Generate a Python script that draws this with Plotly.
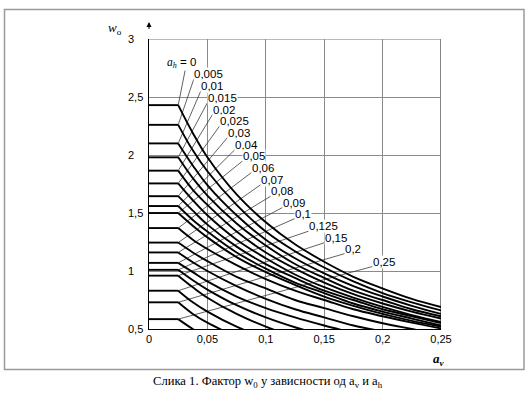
import plotly.graph_objects as go

# ---------------- data ----------------
AV = [0, 0.025, 0.0375, 0.05, 0.075, 0.1, 0.125, 0.15, 0.175, 0.2, 0.225, 0.25]

AH_LABELS = ["0", "0,005", "0,01", "0,015", "0,02", "0,025", "0,03", "0,04", "0,05",
             "0,06", "0,07", "0,08", "0,09", "0,1", "0,125", "0,15", "0,2", "0,25"]

W0_AH_0000 = [2.43, 2.43, 2.19, 1.98, 1.66, 1.42, 1.23, 1.08, 0.95, 0.85, 0.76, 0.69]
W0_AH_0005 = [2.26, 2.26, 2.04, 1.86, 1.57, 1.34, 1.17, 1.03, 0.91, 0.81, 0.73, 0.66]
W0_AH_0010 = [2.10, 2.10, 1.91, 1.74, 1.48, 1.27, 1.11, 0.98, 0.87, 0.78, 0.70, 0.63]
W0_AH_0015 = [1.98, 1.98, 1.80, 1.65, 1.41, 1.22, 1.06, 0.94, 0.83, 0.75, 0.67, 0.61]
W0_AH_0020 = [1.865, 1.865, 1.70, 1.57, 1.34, 1.16, 1.02, 0.90, 0.80, 0.72, 0.65, 0.59]
W0_AH_0025 = [1.755, 1.755, 1.61, 1.48, 1.27, 1.11, 0.97, 0.86, 0.77, 0.69, 0.62, 0.56]
W0_AH_0030 = [1.645, 1.645, 1.52, 1.40, 1.21, 1.06, 0.94, 0.83, 0.75, 0.67, 0.61, 0.55]
W0_AH_0040 = [1.56, 1.56, 1.44, 1.34, 1.16, 1.02, 0.90, 0.81, 0.72, 0.65, 0.59, 0.53]
W0_AH_0050 = [1.50, 1.50, 1.39, 1.29, 1.12, 0.99, 0.88, 0.78, 0.70, 0.63, 0.57, 0.52]
W0_AH_0060 = [1.37, 1.37, 1.27, 1.19, 1.05, 0.93, 0.83, 0.75, 0.67, 0.61, 0.555, 0.505]
W0_AH_0070 = [1.245, 1.245, 1.16, 1.085, 0.95, 0.85, 0.75, 0.68, 0.61, 0.55, 0.50, 0.45]
W0_AH_0080 = [1.16, 1.16, 1.075, 1.0, 0.87, 0.76, 0.67, 0.60, 0.53, 0.48]
W0_AH_0090 = [1.07, 1.07, 0.99, 0.91, 0.78, 0.68, 0.60, 0.53, 0.465]
W0_AH_0100 = [1.01, 1.01, 0.92, 0.84, 0.705, 0.60, 0.515, 0.445]
W0_AH_0125 = [0.96, 0.96, 0.86, 0.77, 0.63, 0.52, 0.43]
W0_AH_0150 = [0.83, 0.83, 0.73, 0.65, 0.52, 0.42]
W0_AH_0200 = [0.73, 0.73, 0.63, 0.555, 0.43]
W0_AH_0250 = [0.585, 0.585, 0.50, 0.43]

CURVES = [W0_AH_0000, W0_AH_0005, W0_AH_0010, W0_AH_0015, W0_AH_0020, W0_AH_0025,
          W0_AH_0030, W0_AH_0040, W0_AH_0050, W0_AH_0060, W0_AH_0070, W0_AH_0080,
          W0_AH_0090, W0_AH_0100, W0_AH_0125, W0_AH_0150, W0_AH_0200, W0_AH_0250]

X_TICK_VALS = [0, 0.05, 0.1, 0.15, 0.2, 0.25]
X_TICK_TEXT = ["0", "0,05", "0,1", "0,15", "0,2", "0,25"]
Y_TICK_VALS = [0.5, 1, 1.5, 2, 2.5, 3]
Y_TICK_TEXT = ["0,5", "1", "1,5", "2", "2,5", "3"]

# ---------------- layout geometry (pixels) ----------------
W, H = 531, 396
L, T, PW, PH = 149, 39, 292, 290
XR = (0, 0.25)
YR = (0.5, 3)

# label anchor (left edge, vertical centre) in pixels
LABEL_PX = [(166, 62.5), (193, 73.5), (200, 85.5), (206.5, 97.5), (211.5, 109.5),
            (219, 120.5), (226.5, 132.5), (234, 144.5), (241.5, 156), (250.5, 167.5),
            (260, 179.5), (270, 191), (281.5, 202.5), (294, 213.5), (308, 226),
            (324, 237.5), (344, 248.5), (371.5, 261.5)]


def px2x(px):
    return XR[0] + (px - L) / PW * (XR[1] - XR[0])


def py2y(py):
    return YR[1] - (py - T) / PH * (YR[1] - YR[0])


def px2p(px):
    return (px - L) / PW


def py2p(py):
    return (T + PH - py) / PH


SANS = "Arial, Liberation Sans, sans-serif"
SERIF = "Times New Roman, Liberation Serif, serif"

fig = go.Figure()

# leader lines
for i, w in enumerate(CURVES):
    lx, ly = LABEL_PX[i]
    if i == 0:
        sx, sy = lx + 19.5, ly + 6
    else:
        sx, sy = lx + 1, ly + 5
    fig.add_trace(go.Scatter(x=[px2x(sx), AV[1]], y=[py2y(sy), w[1]], mode="lines",
                             line=dict(color="#3a3a3a", width=0.8), hoverinfo="skip",
                             showlegend=False))

# curves
for w in CURVES:
    fig.add_trace(go.Scatter(x=AV[:2], y=w[:2], mode="lines",
                             line=dict(color="black", width=1.9), showlegend=False))
    fig.add_trace(go.Scatter(x=AV[1:len(w)], y=w[1:], mode="lines",
                             line=dict(color="black", width=1.9, shape="spline", smoothing=1.0),
                             showlegend=False))

annotations = []
for i, (lx, ly) in enumerate(LABEL_PX):
    if i == 0:
        txt = ('<span style="font-family:Liberation Serif"><i>a<sub>h</sub></i></span> = '
               + AH_LABELS[0])
    else:
        txt = AH_LABELS[i]
    annotations.append(dict(x=px2x(lx), y=py2y(ly), xref="x", yref="y", text=txt,
                            showarrow=False, xanchor="left", yanchor="middle",
                            bgcolor="white", borderpad=0,
                            font=dict(family=SANS, size=11.5, color="black")))

# y tick labels (left aligned, as in the reference)
for v, t in zip(Y_TICK_VALS, Y_TICK_TEXT):
    annotations.append(dict(x=px2p(126), y=v, xref="paper", yref="y", text=t,
                            showarrow=False, xanchor="left", yanchor="middle",
                            font=dict(family=SANS, size=11, color="black")))

# y-axis arrow
annotations.append(dict(x=0, y=py2p(22), xref="x", yref="paper", ax=0, ay=17,
                        axref="pixel", ayref="pixel", text=" ", showarrow=True,
                        arrowhead=2, arrowsize=1, arrowwidth=1, arrowcolor="black"))

# axis titles
annotations.append(dict(x=px2p(106), y=py2p(28), xref="paper", yref="paper",
                        text="<i>w</i><sub>o</sub>", showarrow=False, xanchor="left",
                        yanchor="middle", font=dict(family=SERIF, size=13, color="black")))
annotations.append(dict(x=px2p(431), y=py2p(359), xref="paper", yref="paper",
                        text="<b><i>a<sub>v</sub></i></b>", showarrow=False, xanchor="left",
                        yanchor="middle", font=dict(family=SERIF, size=13, color="black")))

# caption
annotations.append(dict(x=px2p(267.5), y=py2p(382), xref="paper", yref="paper",
                        text="Слика 1. Фактор w<sub>0</sub> у зависности од a<sub>v</sub> и a<sub>h</sub>",
                        showarrow=False, xanchor="center", yanchor="middle",
                        font=dict(family=SERIF, size=12.6, color="black")))

shapes = [
    # outer frame
    dict(type="rect", xref="paper", yref="paper", x0=px2p(4.5), x1=px2p(524),
         y0=py2p(369.5), y1=py2p(9.5), line=dict(color="#9a9a9a", width=1.5), layer="below"),
    # right border
    dict(type="line", xref="x", yref="y", x0=XR[1], x1=XR[1], y0=YR[0], y1=YR[1],
         line=dict(color="#333333", width=1.2), layer="below"),
    # top border
    dict(type="line", xref="x", yref="y", x0=XR[0], x1=XR[1], y0=YR[1], y1=YR[1],
         line=dict(color="#777777", width=1.2), layer="below"),
]

fig.update_layout(
    width=W, height=H,
    margin=dict(l=L, r=W - L - PW, t=T, b=H - T - PH, pad=0),
    paper_bgcolor="white", plot_bgcolor="white",
    showlegend=False,
    annotations=annotations,
    shapes=shapes,
    xaxis=dict(range=list(XR), tickvals=X_TICK_VALS, ticktext=X_TICK_TEXT,
               showgrid=True, gridcolor="#8a8a8a", gridwidth=1,
               showline=True, linecolor="black", linewidth=1.2, zeroline=False,
               ticks="", tickfont=dict(family=SANS, size=11, color="black")),
    yaxis=dict(range=list(YR), tickvals=Y_TICK_VALS, showticklabels=False,
               showgrid=True, gridcolor="#8a8a8a", gridwidth=1,
               showline=True, linecolor="black", linewidth=1.2, zeroline=False,
               ticks=""),
)

fig.write_html("out.html", config={"displayModeBar": False},
               post_script="document.body.style.margin='0px';document.body.style.overflow='hidden';")
